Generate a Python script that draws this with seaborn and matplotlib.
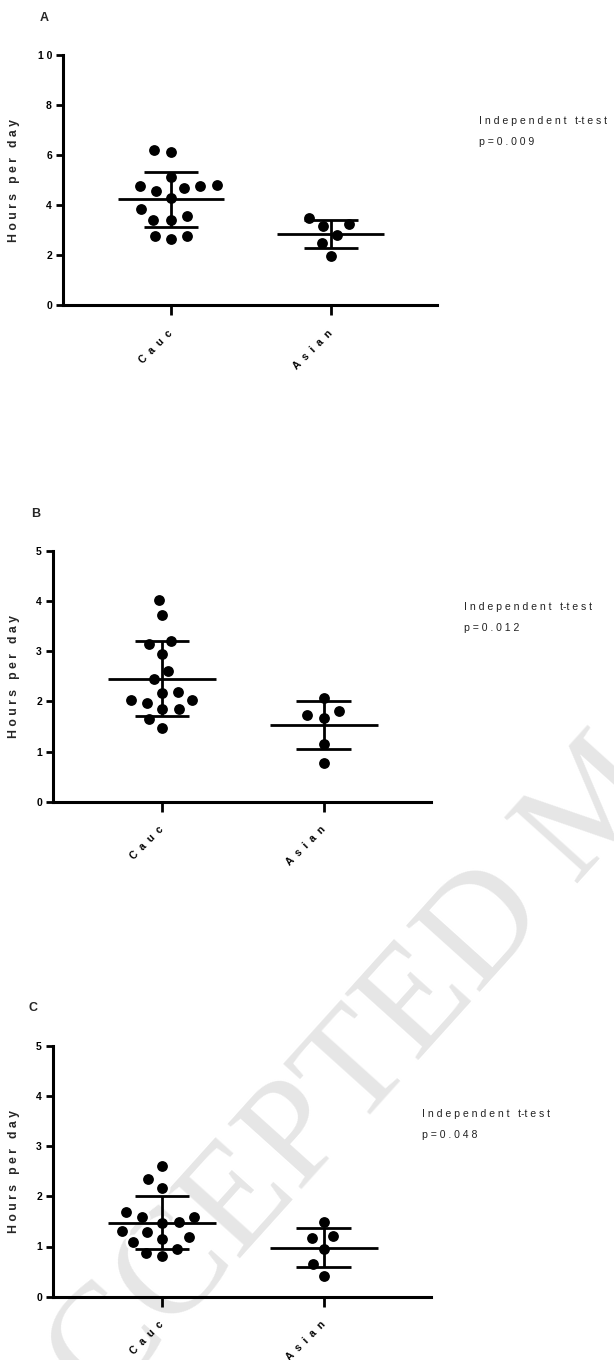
import numpy as np
import pandas as pd
import matplotlib
matplotlib.use("Agg")
import matplotlib.pyplot as plt
import seaborn as sns

# groups on the x axis
groups = ["Cauc", "Asian"]
group_labels = ["C  a  u  c", "A  s  i  a  n"]

# panel A - hours per day
a_cauc = [6.20, 6.13, 5.13, 4.77, 4.67, 4.57, 4.75, 4.80, 4.27, 3.83, 3.57, 3.40, 3.40, 2.77, 2.77, 2.63]
a_asian = [3.47, 3.17, 3.24, 2.80, 2.50, 1.96]

# panel B
b_cauc = [4.02, 3.71, 3.21, 3.14, 2.95, 2.61, 2.44, 2.16, 2.19, 2.03, 2.03, 1.97, 1.85, 1.84, 1.65, 1.46]
b_asian = [2.07, 1.80, 1.67, 1.73, 1.14, 0.78]

# panel C
c_cauc = [2.61, 2.35, 2.17, 1.69, 1.59, 1.59, 1.49, 1.47, 1.31, 1.29, 1.18, 1.15, 1.08, 0.96, 0.87, 0.81]
c_asian = [1.48, 1.17, 1.21, 0.95, 0.65, 0.41]

a_yticks = [0, 2, 4, 6, 8, 10]
a_yticklabels = ["0", "2", "4", "6", "8", "1 0"]
bc_yticks = [0, 1, 2, 3, 4, 5]
bc_yticklabels = ["0", "1", "2", "3", "4", "5"]

p_values = ["p = 0 . 0 0 9", "p = 0 . 0 1 2", "p = 0 . 0 4 8"]
test_name = "I n d e p e n d e n t   t-t e s t"
panel_letters = ["A", "B", "C"]

sns.set_theme(style="ticks")
plt.rcParams["font.family"] = ["Liberation Sans", "DejaVu Sans"]

W, H = 614, 1360
fig = plt.figure(figsize=(W / 100, H / 100), dpi=100)


def px_box(left, top, right, bottom):
    return [left / W, 1 - bottom / H, (right - left) / W, (bottom - top) / H]


def draw_panel(ax, cauc, asian, ymax, yticks, yticklabels, label_x_px):
    df = pd.DataFrame({
        "group": ["Cauc"] * len(cauc) + ["Asian"] * len(asian),
        "hours": cauc + asian,
    })
    # white rim keeps a small gap between neighbouring dots, like the original
    sns.swarmplot(data=df, x="group", y="hours", order=groups, color="black",
                  size=9.6, edgecolor="white", linewidth=1.8, ax=ax, zorder=3)
    stats = df.groupby("group")["hours"].agg(["mean", "std"]).reindex(groups)
    for i, (m, s) in enumerate(zip(stats["mean"], stats["std"])):
        ax.hlines(m, i - 0.334, i + 0.334, color="black", lw=2.0, zorder=4)
        ax.hlines([m - s, m + s], i - 0.169, i + 0.169, color="black", lw=2.0, zorder=4)
        ax.vlines(i, m - s, m + s, color="black", lw=2.0, zorder=4)

    ax.set_xlim(-0.675, 1.665)
    ax.set_ylim(0, ymax)
    ax.set_yticks(yticks)
    ax.set_yticklabels(yticklabels, fontsize=7.5, fontweight="bold")
    ax.set_xticks(range(len(groups)))
    ax.set_xticklabels(group_labels, rotation=45, ha="right", va="center",
                       rotation_mode="anchor", fontsize=7.5, fontweight="bold")
    ax.set_xlabel("")
    ax.set_ylabel("H o u r s   p e r   d a y", fontsize=8.8, fontweight="bold")
    ax.yaxis.set_label_coords(label_x_px, 0.5)
    ax.tick_params(axis="y", length=5, width=2, pad=3, colors="black")
    ax.tick_params(axis="x", length=7, width=2, pad=12, colors="black")
    for side in ["top", "right"]:
        ax.spines[side].set_visible(False)
    for side in ["left", "bottom"]:
        ax.spines[side].set_linewidth(2.2)
        ax.spines[side].set_color("black")
    ax.set_facecolor("none")


# watermark, drawn before the axes
fig.text(600 / W, 1 - 805 / H, "ACCEPTED MANUSCRIPT", fontsize=108,
         family="Liberation Serif", color="#e6e6e6", rotation=48,
         ha="center", va="center", rotation_mode="anchor", zorder=-1)

boxes = [px_box(63, 55, 437, 305), px_box(53, 550.7, 431, 801.7), px_box(53, 1045.7, 431, 1296.7)]
series = [(a_cauc, a_asian, 10, a_yticks, a_yticklabels),
          (b_cauc, b_asian, 5, bc_yticks, bc_yticklabels),
          (c_cauc, c_asian, 5, bc_yticks, bc_yticklabels)]
letter_pos = [(44, 18), (36, 514), (33, 1008)]
text_pos = [(479, 121), (464, 607), (422, 1114)]

for box, (cauc, asian, ymax, yt, ytl), lp, tp, pv, letter in zip(
        boxes, series, letter_pos, text_pos, p_values, panel_letters):
    ax = fig.add_axes(box)
    label_x = (20 - box[0] * W) / (box[2] * W)
    draw_panel(ax, cauc, asian, ymax, yt, ytl, label_x)
    fig.text(lp[0] / W, 1 - lp[1] / H, letter, fontsize=9, fontweight="bold",
             ha="center", va="center")
    fig.text(tp[0] / W, 1 - tp[1] / H, test_name, fontsize=7.6, color="#222222",
             ha="left", va="center")
    fig.text(tp[0] / W, 1 - (tp[1] + 21) / H, pv, fontsize=7.6, color="#222222",
             ha="left", va="center")

fig.savefig("out.png", dpi=100, facecolor="white")
